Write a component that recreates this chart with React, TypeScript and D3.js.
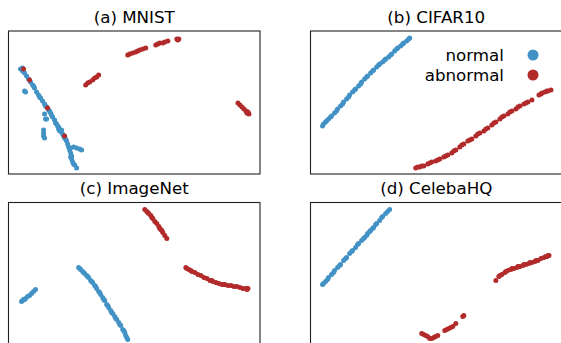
import React from 'react';
import * as d3 from 'd3';

// 2-D embeddings (x right, y down, panel units)
type Pt = [number, number];

const mnistNormal: Pt[] = [
  [12, 38], [14, 37], [13, 38], [14, 40], [16, 42], [18, 45], [20, 48], [22, 51], [24, 54], [26, 57],
  [28, 61], [30, 64], [32, 67], [34, 70], [36, 73], [38, 76], [40, 79], [42, 82], [44, 86], [46, 89],
  [48, 93], [50, 96], [52, 100], [54, 103], [56, 107], [58, 110], [59, 113], [60, 116], [61, 119],
  [62, 122], [63, 125], [63, 128], [64, 131], [66, 134], [68, 137], [62, 117], [65, 116], [68, 117],
  [71, 118], [73, 119], [16, 60], [17, 61], [36, 83], [38, 88], [37, 88], [35, 99], [35, 102],
  [35, 105], [36, 107], [51, 100], [50, 98], [41, 80], [47, 92], [53, 99], [25, 55], [31, 66],
  [37, 75], [43, 84], [49, 95], [55, 105], [57, 108], [62, 126], [65, 133]
];
const mnistAbnormal: Pt[] = [
  [15, 38], [21, 49], [39, 77], [56, 105],
  [77, 54], [79, 52], [81, 51], [84, 49], [86, 47], [88, 46], [90, 44],
  [119, 24], [121, 23], [124, 22], [127, 21], [129, 20], [131, 19], [134, 18], [137, 17],
  [147, 14], [149, 13], [151, 12], [154, 12], [156, 11], [159, 10],
  [168, 8], [170, 8], [169, 9],
  [229, 72], [231, 74], [233, 76], [235, 78], [237, 80], [239, 82], [240, 83], [238, 82], [239, 81]
];

const cifarNormal: Pt[] = [
  [12, 95], [15, 91], [18, 88], [21, 85], [24, 82], [27, 78], [30, 75], [33, 71], [36, 68], [39, 64],
  [42, 61], [45, 58], [48, 55], [51, 51], [54, 48], [57, 45], [60, 42], [63, 39], [66, 36], [69, 33],
  [72, 31], [75, 28], [78, 26], [81, 23], [84, 20], [87, 17], [90, 15], [93, 12], [96, 10], [99, 7],
  [13, 93], [16, 90], [20, 86], [26, 80], [32, 73], [38, 66], [44, 59], [50, 53], [56, 46], [62, 40],
  [68, 34], [74, 29], [80, 24], [86, 18], [92, 13], [98, 8]
];
const cifarAbnormal: Pt[] = [
  [105, 137], [109, 136], [113, 135], [117, 133], [121, 131], [125, 130], [129, 128], [133, 126],
  [137, 124], [141, 122], [145, 119], [149, 116], [153, 113], [157, 110], [161, 108], [165, 105],
  [169, 102], [173, 100], [177, 97], [181, 94], [185, 91], [189, 88], [193, 85], [197, 83], [201, 80],
  [205, 78], [209, 75], [213, 73], [217, 71], [221, 69], [228, 64], [231, 62], [234, 61], [237, 60], [240, 59],
  [107, 136], [111, 135], [119, 132], [127, 129], [135, 125], [143, 120], [151, 114], [159, 109],
  [167, 103], [175, 98], [183, 92], [191, 86], [199, 81], [207, 76], [215, 72], [230, 63], [236, 60]
];

const imagenetNormal: Pt[] = [
  [13, 99], [15, 97], [17, 96], [19, 94], [21, 93], [23, 91], [25, 89], [27, 87], [14, 98], [16, 97],
  [70, 65], [72, 67], [74, 69], [76, 71], [78, 73], [80, 75], [82, 78], [84, 80], [86, 83], [88, 86],
  [90, 89], [92, 92], [94, 95], [96, 98], [98, 102], [100, 105], [102, 108], [104, 111], [106, 114],
  [108, 117], [110, 120], [112, 123], [114, 127], [116, 130], [117, 133], [118, 135], [119, 137],
  [71, 66], [75, 70], [79, 74], [83, 79], [87, 84], [91, 90], [95, 97], [99, 103], [103, 110],
  [107, 116], [111, 122], [115, 128]
];
const imagenetAbnormal: Pt[] = [
  [136, 7], [138, 9], [140, 11], [142, 13], [144, 16], [146, 19], [148, 21], [150, 24], [152, 27],
  [154, 30], [156, 33], [158, 36], [139, 10], [143, 15], [151, 26], [153, 28],
  [177, 65], [180, 67], [183, 69], [186, 70], [189, 72], [192, 73], [195, 75], [198, 76], [201, 78],
  [204, 79], [207, 80], [210, 81], [213, 82], [216, 82], [219, 83], [222, 83], [225, 84], [228, 84],
  [231, 85], [234, 86], [237, 86], [239, 86], [178, 66], [182, 68], [203, 78], [215, 82], [238, 87]
];

const celebaNormal: Pt[] = [
  [12, 82], [15, 79], [18, 75], [21, 72], [24, 68], [27, 65], [30, 62], [33, 58], [36, 55], [39, 51],
  [42, 48], [45, 45], [48, 41], [51, 38], [54, 35], [57, 31], [60, 28], [63, 25], [66, 21], [69, 18],
  [72, 14], [75, 11], [77, 9], [79, 7], [13, 81], [17, 77], [23, 70], [29, 63], [35, 56], [41, 49],
  [47, 42], [53, 36], [59, 29], [65, 22], [71, 15], [56, 33], [62, 26]
];
const celebaAbnormal: Pt[] = [
  [185, 78], [188, 74], [191, 72], [194, 70], [197, 68], [200, 67], [203, 66], [206, 65], [209, 64],
  [212, 63], [215, 62], [218, 61], [221, 60], [224, 59], [227, 58], [230, 56], [233, 55], [236, 54], [238, 53],
  [189, 73], [195, 69], [201, 66], [207, 64], [213, 62], [219, 60], [225, 58], [235, 54], [237, 53],
  [111, 131], [113, 132], [115, 133], [117, 134], [119, 136], [121, 136], [123, 135], [125, 134], [127, 133],
  [134, 128], [136, 127], [138, 126], [140, 125], [142, 124], [145, 121], [152, 114], [153, 113]
];

const titles = ['(a) MNIST', '(b) CIFAR10', '(c) ImageNet', '(d) CelebaHQ'];
const normalSets = [mnistNormal, cifarNormal, imagenetNormal, celebaNormal];
const abnormalSets = [mnistAbnormal, cifarAbnormal, imagenetAbnormal, celebaAbnormal];
const legendLabels = ['normal', 'abnormal'];

const W = 561;
const H = 343;
const BLUE = '#4292c6';
const RED = '#b22a2a';
const FONT = 'DejaVu Sans, sans-serif';

const panelW = 251.5;
const panelH = 143;
const cols = [8.5, 310.5];
const rows = [31, 202.5];

const x = d3.scaleLinear().domain([0, 251]).range([0, panelW]);
const y = d3.scaleLinear().domain([0, 143]).range([0, panelH]);

const Panel = ({ i }: { i: number }) => {
  const px = cols[i % 2];
  const py = rows[Math.floor(i / 2)];
  return (
    <g transform={`translate(${px},${py})`}>
      <text x={panelW / 2} y={-8.5} textAnchor="middle" fontSize={16.7} fontFamily={FONT} fill="#000">
        {titles[i]}
      </text>
      <g clipPath={`url(#clip${i})`}>
        {normalSets[i].map((d, k) => (
          <circle key={'n' + k} cx={x(d[0])} cy={y(d[1])} r={2.5} fill={BLUE} />
        ))}
        {abnormalSets[i].map((d, k) => (
          <circle key={'a' + k} cx={x(d[0])} cy={y(d[1])} r={2.5} fill={RED} />
        ))}
      </g>
      <rect x={0} y={0} width={panelW} height={panelH} fill="none" stroke="#222" strokeWidth={1.1} />
      <clipPath id={`clip${i}`}>
        <rect x={0} y={0} width={panelW} height={panelH} />
      </clipPath>
    </g>
  );
};

const App = () => {
  return (
    <svg
      width={W}
      height={H}
      style={{ position: 'absolute', left: 0, top: 0, display: 'block', background: '#fff' }}
    >
      {[0, 1, 2, 3].map(i => <Panel key={i} i={i} />)}
      {/* legend inside panel (b) */}
      <g fontFamily={FONT} fontSize={16.7}>
        {legendLabels.map((l, k) => (
          <g key={l} transform={`translate(0,${55 + k * 20})`}>
            <text x={504} y={5.5} textAnchor="end" fill="#000">{l}</text>
            <circle cx={533} cy={0} r={5.5} fill={k === 0 ? BLUE : RED} />
          </g>
        ))}
      </g>
    </svg>
  );
};

export default App;
